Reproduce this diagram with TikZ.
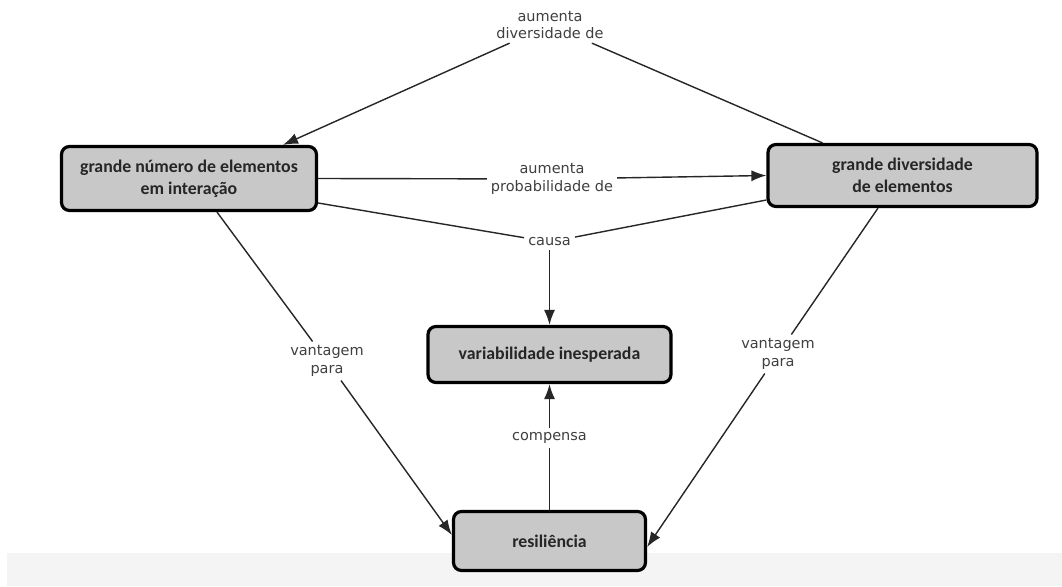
\documentclass[tikz,border=0pt]{standalone}
\usepackage{fontspec}
\setmainfont{DejaVu Sans}
\newfontfamily\boxfont{Carlito}
\usetikzlibrary{arrows.meta}
\definecolor{boxgray}{RGB}{200,200,200}
\definecolor{bandgray}{RGB}{244,244,244}
\begin{document}
\begin{tikzpicture}[x=1pt,y=-1pt,
  concept/.style={draw=black, line width=3.2pt, rounded corners=8pt, fill=boxgray, align=center,
    font=\boxfont\bfseries\fontsize{17.8}{22}\selectfont, text=black!85, inner sep=0pt},
  link/.style={align=center, font=\fontsize{14.5}{17.5}\selectfont, text=black!75, inner sep=4pt},
  conn/.style={line width=1.4pt, draw=black!85},
  arr/.style={conn, -{Latex[length=15pt,width=11pt]}},
]
\useasboundingbox (0,0) rectangle (1062,586);
\fill[white] (0,0) rectangle (1062,586);
\fill[bandgray] (7,553) rectangle (1062,586);

\node[concept, minimum width=255, minimum height=64] (A) at (189,178.5) {grande número de elementos\\em interação};
\node[concept, minimum width=269, minimum height=62] (B) at (902.5,175.5) {grande diversidade\\de elementos};
\node[concept, minimum width=243, minimum height=56] (C) at (549.5,354.5) {variabilidade inesperada};
\node[concept, minimum width=192, minimum height=59] (D) at (549.5,541) {resiliência};

\node[link] (l1) at (550,25) {aumenta\\diversidade de};
\node[link] (l2) at (552,179) {aumenta\\probabilidade de};
\node[link] (l3) at (549.5,242) {causa};
\node[link] (l4) at (327,361) {vantagem\\para};
\node[link] (l5) at (778,354) {vantagem\\para};
\node[link] (l6) at (549.5,438) {compensa};

\draw[conn] ([xshift=-80pt]B.north) -- (l1);
\draw[arr] (l1) -- ([xshift=94pt]A.north);
\draw[conn] (A.east) -- (l2);
\draw[arr] (l2) -- (B.west);
\draw[conn] ([yshift=-24.5pt]A.east) -- (l3);
\draw[conn] ([yshift=-24.5pt]B.west) -- (l3);
\draw[arr] (l3) -- (C.north);
\draw[conn] ([xshift=28pt]A.south) -- (l4);
\draw[arr] (l4) -- ([yshift=6pt]D.west);
\draw[conn] ([xshift=-24.5pt]B.south) -- (l5);
\draw[arr] (l5) -- ([yshift=-6pt]D.east);
\draw[conn] (D.north) -- (l6);
\draw[arr] (l6) -- (C.south);
\end{tikzpicture}
\end{document}
